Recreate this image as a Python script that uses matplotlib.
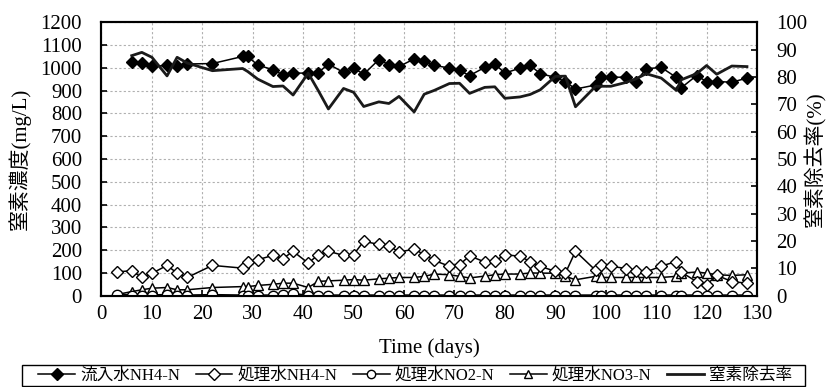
import matplotlib
matplotlib.use("Agg")
import matplotlib.pyplot as plt
from matplotlib.patches import Rectangle

plt.rcParams['font.family'] = ['Liberation Serif', 'Noto Sans CJK JP']
plt.rcParams['axes.unicode_minus'] = False

days_eff = [3, 6, 8, 10, 13, 15, 17, 22, 28, 29, 31, 34, 36, 38, 41, 43, 45, 48, 50, 52,
            55, 57, 59, 62, 64, 66, 69, 71, 73, 76, 78, 80, 83, 85, 87, 90, 92, 94, 98, 99,
            101, 104, 106, 108, 111, 114, 115, 118, 120, 122, 125, 128]
days_inf = [6, 8, 10, 13, 15, 17, 22, 28, 29, 31, 34, 36, 38, 41, 43, 45, 48, 50, 52,
            55, 57, 59, 62, 64, 66, 69, 71, 73, 76, 78, 80, 83, 85, 87, 90, 92, 94, 98, 99,
            101, 104, 106, 108, 111, 114, 115, 118, 120, 122, 125, 128]

inf_nh4 = [1024, 1021, 1006, 1011, 1009, 1017, 1019, 1050, 1050, 1012, 992, 969, 977, 977,
           979, 1017, 980, 999, 972, 1036, 1014, 1006, 1039, 1028, 1011, 999, 989, 966,
           1002, 1017, 977, 999, 1011, 975, 958, 940, 907, 925, 962, 959, 959, 940, 996,
           1002, 958, 913, 966, 940, 940, 937, 955]
removal = [87.8, 89.0, 87.2, 80.4, 87.2, 85.1, 82.3, 83.1, 82.0, 79.2, 76.5, 76.7, 73.4,
           81.4, 75.0, 68.3, 75.8, 74.4, 69.2, 70.9, 70.3, 72.9, 67.2, 73.7, 75.1, 77.6,
           77.7, 74.0, 76.2, 76.4, 72.2, 72.7, 73.6, 75.3, 80.2, 80.3, 69.1, 76.6, 76.6,
           76.6, 78.0, 79.3, 81.2, 79.6, 75.1, 79.0, 81.2, 84.2, 81.0, 84.0, 83.8]
eff_nh4 = [104, 110, 80, 98, 133, 99, 80, 133, 121, 146, 158, 177, 163, 195, 143, 180, 195,
           177, 180, 239, 225, 220, 191, 205, 180, 155, 129, 136, 175, 148, 151, 180, 173,
           150, 129, 107, 99, 195, 111, 136, 130, 119, 108, 104, 130, 150, 103, 62, 48, 90,
           62, 55]
eff_no2 = [5, 0, 0, 0, 3, 0, 0, 2, 0, 0, 0, 0, 2, 6, 0, 0, 0, 0, 0, 0, 0, 0, 0, 0, 0, 0,
           0, 0, 0, 0, 0, 0, 0, 0, 0, 0, 0, 0, 0, 0, 0, 0, 0, 0, 0, 0, 0, 0, 0, 0, 0, 0]
eff_no3 = [5, 18, 26, 33, 36, 26, 26, 36, 40, 40, 45, 50, 55, 55, 36, 63, 65, 68, 71, 68,
           74, 77, 80, 80, 85, 95, 92, 85, 78, 86, 92, 95, 95, 100, 99, 99, 85, 70, 85, 80,
           80, 80, 80, 80, 80, 85, 99, 104, 99, 92, 89, 92]

labels = ['流入水NH4-N', '処理水NH4-N', '処理水NO2-N', '処理水NO3-N', '窒素除去率']
xticks = list(range(0, 131, 10))
yticks_left = list(range(0, 1201, 100))
yticks_right = list(range(0, 101, 10))

fig = plt.figure(figsize=(8.27, 3.87), dpi=100)
ax = fig.add_axes([0.1227, 0.2359, 0.9154 - 0.1227, 0.9424 - 0.2359])
ax2 = ax.twinx()

lw = 1.1
h1, = ax.plot(days_inf, inf_nh4, color='black', lw=lw, marker='D', ms=6,
              mfc='black', mec='black', zorder=4)
h2, = ax.plot(days_eff, eff_nh4, color='black', lw=lw, marker='D', ms=6,
              mfc='white', mec='black', mew=1.0, zorder=4)
h4, = ax.plot(days_eff, eff_no3, color='black', lw=lw, marker='^', ms=7.5,
              mfc='white', mec='black', mew=1.0, zorder=3)
h3, = ax.plot(days_eff, eff_no2, color='black', lw=2.0, marker='o', ms=7.5,
              mfc='white', mec='black', mew=1.0, zorder=3)
h5, = ax2.plot(days_inf, removal, color='#1a1a1a', lw=2.0, zorder=5)

ax.set_xlim(0, 130)
ax.set_ylim(0, 1200)
ax2.set_ylim(0, 100)
ax.set_xticks(xticks)
ax.set_yticks(yticks_left)
ax2.set_yticks(yticks_right)

ax.grid(True, color='#b0b0b0', linestyle=(0, (2, 2)), lw=0.8)
ax.set_axisbelow(True)

for a in (ax, ax2):
    for s in a.spines.values():
        s.set_linewidth(1.5)
        s.set_color('black')
ax.tick_params(axis='x', direction='in', length=4, width=1.2, labelsize=15, pad=7)
ax.tick_params(axis='y', direction='in', length=4, width=1.2, labelsize=15, pad=14)
ax2.tick_params(axis='y', direction='in', length=4, width=1.2, labelsize=15, pad=14)

ax.set_xlabel('Time (days)', fontsize=15)
ax.xaxis.set_label_coords(0.5, -0.155)
ax.set_ylabel('窒素濃度(mg/L)', fontsize=15)
ax.yaxis.set_label_coords(-0.108, 0.5)
ax2.set_ylabel('窒素除去率(%)', fontsize=15)
ax2.yaxis.set_label_coords(1.072, 0.5)

leg = fig.legend([h1, h2, h3, h4, h5], labels, loc='center', bbox_to_anchor=(0.502, 0.0297),
                 ncol=5, fontsize=12, frameon=False,
                 handlelength=2.2, handletextpad=0.3, columnspacing=0.95, borderpad=0.1,
                 borderaxespad=0.0)
for i, lh in enumerate(leg.legend_handles):
    lh.set_markersize(6)
    if i < 4:
        lh.set_linewidth(1.1)
fig.patches.append(Rectangle((22 / 827, 1 - 386 / 387), (805 - 22) / 827, 21 / 387,
                             transform=fig.transFigure, fill=False, ec='black', lw=1.0))

fig.savefig('out.png', dpi=100)
